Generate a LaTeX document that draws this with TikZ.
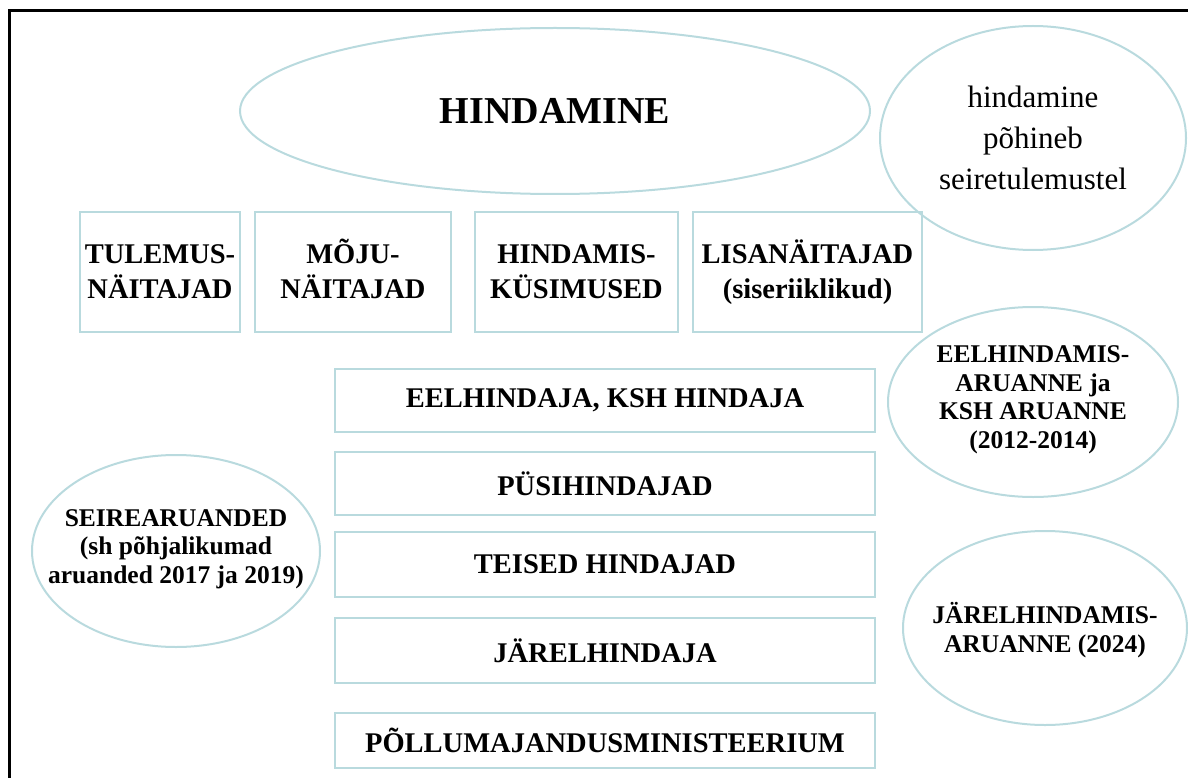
\documentclass[tikz,border=0pt]{standalone}
\usepackage{fontspec}
\setmainfont{Liberation Serif}
\usetikzlibrary{shapes.geometric}
\definecolor{edgecol}{RGB}{185,218,222}
\newcommand{\eqline}{\vphantom{ÕÜ()}}
\tikzset{
  box/.style={draw=edgecol, line width=2pt, rectangle, inner sep=0pt, align=center,
    font=\fontsize{28.5}{35}\selectfont\bfseries},
  oval/.style={draw=edgecol, line width=2pt, ellipse, inner sep=0pt},
  ovaltext/.style={inner sep=0pt, align=center, font=\fontsize{25.5}{28.5}\selectfont\bfseries},
  frame/.style={line width=3pt, black},
}
\begin{document}
\begin{tikzpicture}[x=1pt,y=-1pt]
\useasboundingbox (0,0) rectangle (1188,778);
\draw[frame] (9,778) -- (9,11) -- (1188,11);
% ovals
\node[oval, minimum width=630pt, minimum height=166pt] (hind) at (555,111) {};
\node[ovaltext, font=\fontsize{38}{40}\selectfont\bfseries] (hindtxt) at (hind) {HINDAMINE};
\node[oval, minimum width=306pt, minimum height=224pt] (pohi) at (1033,138) {};
\node[ovaltext, font=\fontsize{31}{41}\selectfont] (pohitxt) at (pohi) {hindamine\\põhineb\\seiretulemustel};
\node[oval, minimum width=290pt, minimum height=190pt] (eelh) at (1033,402) {};
\node[ovaltext] (eelhtxt) at ([yshift=2pt]eelh.center) {EELHINDAMIS-\\ARUANNE ja\\KSH ARUANNE\\(2012-2014)};
\node[oval, minimum width=284pt, minimum height=194pt] (jarelh) at (1045,628) {};
\node[ovaltext] (jarelhtxt) at ([yshift=-2pt]jarelh.center) {JÄRELHINDAMIS-\\ARUANNE (2024)};
\node[oval, minimum width=288pt, minimum height=192pt] (seire) at (176,551) {};
\node[ovaltext] (seiretxt) at ([yshift=2pt]seire.center) {SEIREARUANDED\\(sh põhjalikumad\\aruanded 2017 ja 2019)};
% top row boxes
\node[box, minimum width=160pt, minimum height=120pt] (tul) at (160,272) {\eqline TULEMUS-\\\eqline NÄITAJAD};
\node[box, minimum width=196pt, minimum height=120pt] (moju) at (353,272) {\eqline MÕJU-\\\eqline NÄITAJAD};
\node[box, minimum width=203pt, minimum height=120pt] (kys) at (576.5,272) {\eqline HINDAMIS-\\\eqline KÜSIMUSED};
\node[box, minimum width=229pt, minimum height=120pt] (lisa) at (807.5,272) {\eqline LISANÄITAJAD\\\eqline (siseriiklikud)};
% middle boxes
\node[box, minimum width=540pt, minimum height=63pt] (eel) at (605,400.5) {EELHINDAJA, KSH HINDAJA};
\node[box, minimum width=540pt, minimum height=63pt] (pysi) at (605,483.5) {PÜSIHINDAJAD};
\node[box, minimum width=540pt, minimum height=65pt] (teised) at (605,564.5) {TEISED HINDAJAD};
\node[box, minimum width=540pt, minimum height=65pt] (jarel) at (605,650.5) {JÄRELHINDAJA};
\node[box, minimum width=540pt, minimum height=55pt] (pollu) at (605,740.5) {PÕLLUMAJANDUSMINISTEERIUM};
\end{tikzpicture}
\end{document}
